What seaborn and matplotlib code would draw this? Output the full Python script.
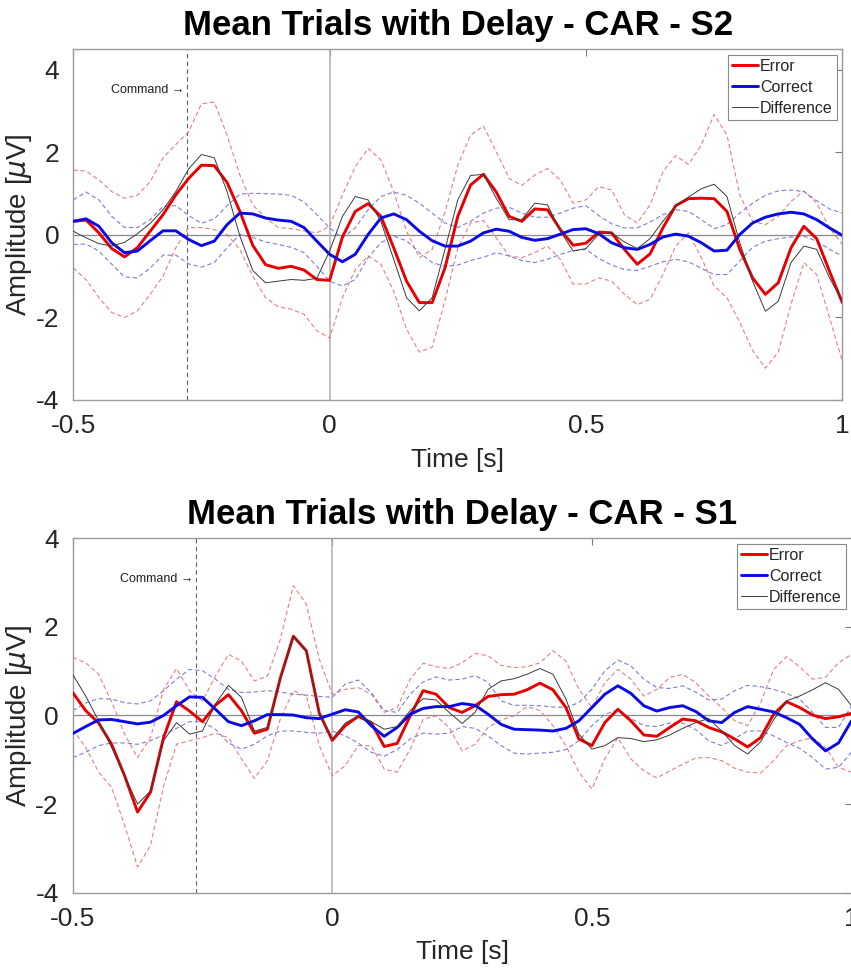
import numpy as np
import pandas as pd
import matplotlib
matplotlib.use("Agg")
import matplotlib.pyplot as plt
import seaborn as sns
from matplotlib.lines import Line2D

# ---------------- data ----------------
time = np.round(np.linspace(-0.5, 1.0, 61), 3)

# S2 (top panel)
s2_error = [0.33, 0.36, 0.05, -0.33, -0.53, -0.31, 0.09, 0.49, 0.97, 1.37,
            1.69, 1.68, 1.27, 0.57, -0.25, -0.72, -0.81, -0.76, -0.85, -1.08,
            -1.10, -0.05, 0.57, 0.76, 0.45, -0.31, -1.12, -1.64, -1.64, -0.80,
            0.45, 1.21, 1.47, 1.04, 0.45, 0.33, 0.63, 0.61, 0.13, -0.25,
            -0.20, 0.07, 0.05, -0.35, -0.71, -0.46, 0.17, 0.71, 0.88, 0.89,
            0.88, 0.57, -0.35, -1.04, -1.44, -1.16, -0.31, 0.21, -0.09, -0.88,
            -1.64]
s2_correct = [0.33, 0.39, 0.21, -0.19, -0.43, -0.39, -0.14, 0.10, 0.10, -0.11,
              -0.26, -0.15, 0.25, 0.53, 0.51, 0.41, 0.36, 0.33, 0.18, -0.15,
              -0.47, -0.65, -0.47, 0.01, 0.41, 0.51, 0.37, 0.09, -0.14, -0.27,
              -0.27, -0.15, 0.05, 0.14, 0.09, -0.06, -0.13, -0.09, 0.02, 0.13,
              0.15, 0.03, -0.19, -0.31, -0.35, -0.23, -0.05, 0.02, -0.03, -0.19,
              -0.39, -0.37, 0.01, 0.29, 0.43, 0.51, 0.55, 0.51, 0.37, 0.17,
              -0.01]
s2_diff = [0.09, -0.07, -0.21, -0.27, -0.18, 0.03, 0.28, 0.61, 1.05, 1.60,
           1.95, 1.87, 1.05, -0.03, -0.86, -1.16, -1.12, -1.08, -1.10, -1.05,
           -0.39, 0.45, 0.93, 0.85, 0.33, -0.59, -1.52, -1.84, -1.52, -0.35,
           0.85, 1.44, 1.47, 0.89, 0.37, 0.37, 0.77, 0.73, 0.09, -0.39,
           -0.33, 0.02, 0.05, -0.17, -0.33, -0.09, 0.33, 0.71, 0.92, 1.12,
           1.23, 0.93, -0.19, -1.12, -1.85, -1.61, -0.67, -0.27, -0.35, -1.04,
           -1.61]
s2_error_hi = [1.57, 1.55, 1.33, 1.05, 0.89, 0.96, 1.29, 1.87, 2.19, 2.50,
               3.18, 3.22, 2.42, 1.45, 0.73, 0.41, 0.18, 0.15, 0.10, 0.05,
               0.21, 0.97, 1.65, 2.10, 1.82, 1.05, 0.09, -0.55, -0.35, 0.55,
               1.69, 2.42, 2.64, 2.02, 1.37, 1.20, 1.45, 1.61, 1.33, 0.77,
               0.85, 1.17, 1.09, 0.49, 0.29, 0.73, 1.53, 1.92, 1.71, 2.18,
               2.92, 2.42, 0.97, 0.33, 0.25, 0.45, 0.81, 1.07, 0.77, 0.17,
               -0.23]
s2_error_lo = [-0.80, -1.08, -1.52, -1.88, -2.00, -1.84, -1.44, -1.00, -0.31, 0.18,
               0.18, 0.13, 0.01, -0.35, -1.00, -1.52, -1.74, -1.80, -1.92, -2.32,
               -2.50, -1.52, -0.84, -0.51, -0.71, -1.36, -2.28, -2.84, -2.72, -1.60,
               -0.31, 0.29, 0.35, -0.07, -0.51, -0.55, -0.43, -0.27, -0.59, -1.19,
               -1.19, -1.04, -1.12, -1.44, -1.69, -1.56, -0.96, -0.27, 0.05, -0.55,
               -1.24, -1.52, -2.12, -2.80, -3.23, -2.84, -1.68, -0.67, -0.96, -2.00,
               -3.06]
s2_correct_hi = [0.85, 1.04, 0.85, 0.45, 0.18, 0.18, 0.37, 0.69, 0.71, 0.47,
                 0.28, 0.39, 0.71, 0.99, 1.01, 1.00, 0.99, 0.96, 0.80, 0.49,
                 0.17, -0.07, 0.17, 0.61, 0.93, 1.04, 0.96, 0.77, 0.53, 0.29,
                 0.18, 0.33, 0.53, 0.65, 0.67, 0.53, 0.43, 0.43, 0.53, 0.65,
                 0.71, 0.47, 0.27, 0.17, 0.17, 0.31, 0.49, 0.61, 0.57, 0.37,
                 0.15, 0.25, 0.53, 0.77, 0.96, 1.07, 1.09, 1.05, 0.83, 0.63,
                 0.53]
s2_correct_lo = [-0.23, -0.22, -0.39, -0.71, -1.02, -1.04, -0.80, -0.49, -0.49, -0.70,
                 -0.78, -0.67, -0.31, 0.01, -0.06, -0.17, -0.23, -0.30, -0.43, -0.76,
                 -1.12, -1.24, -1.08, -0.55, -0.19, -0.03, -0.14, -0.43, -0.67, -0.76,
                 -0.73, -0.62, -0.54, -0.43, -0.51, -0.62, -0.67, -0.59, -0.47, -0.38,
                 -0.35, -0.57, -0.73, -0.84, -0.86, -0.76, -0.65, -0.59, -0.65, -0.81,
                 -0.96, -0.96, -0.63, -0.30, -0.15, -0.09, -0.05, -0.03, -0.15, -0.35,
                 -0.51]

# S1 (bottom panel)
s1_error = [0.52, 0.11, -0.17, -0.65, -1.36, -2.18, -1.73, -0.50, 0.31, 0.10,
            -0.14, 0.23, 0.47, 0.11, -0.40, -0.31, 0.85, 1.79, 1.46, 0.05,
            -0.56, -0.23, -0.02, -0.16, -0.70, -0.63, -0.01, 0.56, 0.48, 0.18,
            0.07, 0.22, 0.43, 0.47, 0.48, 0.58, 0.73, 0.58, 0.18, -0.53,
            -0.68, -0.16, 0.14, -0.12, -0.44, -0.47, -0.27, -0.08, -0.12, -0.27,
            -0.37, -0.53, -0.71, -0.50, 0.03, 0.31, 0.18, 0.01, -0.07, -0.03,
            0.05]
s1_correct = [-0.41, -0.25, -0.10, -0.09, -0.14, -0.19, -0.15, 0.00, 0.22, 0.42,
              0.41, 0.14, -0.14, -0.23, -0.12, 0.02, 0.02, 0.01, -0.05, -0.07,
              0.03, 0.13, 0.08, -0.23, -0.47, -0.27, 0.03, 0.16, 0.20, 0.20,
              0.27, 0.23, 0.03, -0.20, -0.31, -0.32, -0.33, -0.35, -0.29, -0.12,
              0.18, 0.48, 0.67, 0.50, 0.22, 0.10, 0.18, 0.22, 0.09, -0.12,
              -0.16, 0.07, 0.20, 0.14, 0.08, -0.05, -0.20, -0.53, -0.80, -0.62,
              -0.12]
s1_diff = [0.93, 0.44, -0.12, -0.72, -1.36, -2.00, -1.70, -0.57, -0.16, -0.42,
           -0.35, 0.26, 0.68, 0.41, -0.35, -0.27, 0.83, 1.79, 1.46, 0.03,
           -0.53, -0.17, -0.01, -0.14, -0.31, -0.25, 0.11, 0.38, 0.35, 0.07,
           -0.18, 0.07, 0.59, 0.78, 0.83, 0.93, 1.06, 0.93, 0.37, -0.42,
           -0.76, -0.68, -0.50, -0.52, -0.59, -0.55, -0.44, -0.29, -0.16, -0.07,
           -0.35, -0.68, -0.87, -0.59, -0.10, 0.33, 0.44, 0.58, 0.74, 0.59,
           0.22]
s1_error_hi = [1.31, 1.19, 0.93, 0.31, -0.42, -0.95, -0.50, 0.59, 1.06, 0.56,
               0.33, 0.89, 1.38, 1.23, 0.78, 0.89, 1.72, 2.93, 2.51, 1.27,
               0.48, 0.59, 0.63, 0.48, 0.07, 0.18, 0.82, 1.18, 1.10, 1.06,
               1.19, 1.40, 1.35, 1.13, 1.08, 1.10, 1.19, 1.46, 1.23, 0.59,
               0.18, 0.74, 1.04, 0.82, 0.44, 0.59, 0.86, 0.93, 0.74, 0.44,
               0.18, -0.12, -0.23, 0.29, 1.04, 1.33, 1.10, 0.82, 0.86, 1.19,
               1.38]
s1_error_lo = [-0.31, -0.72, -1.28, -1.62, -2.48, -3.42, -2.93, -1.60, -0.65, -0.57,
               -0.50, -0.40, -0.50, -0.98, -1.42, -1.02, -0.08, 0.56, 0.44, -0.68,
               -1.36, -1.13, -0.68, -0.68, -1.21, -1.28, -0.76, -0.08, -0.01, -0.27,
               -0.80, -0.65, -0.27, -0.10, -0.01, 0.20, 0.11, -0.23, -0.68, -1.28,
               -1.66, -0.98, -0.50, -0.98, -1.25, -1.41, -1.25, -1.10, -0.96, -0.95,
               -1.02, -1.19, -1.28, -1.30, -1.02, -0.68, -0.57, -0.50, -0.72, -1.17,
               -1.28]
s1_correct_hi = [0.11, 0.28, 0.38, 0.37, 0.29, 0.26, 0.33, 0.56, 0.82, 1.04,
                 1.01, 0.82, 0.59, 0.52, 0.53, 0.56, 0.53, 0.48, 0.46, 0.43,
                 0.41, 0.71, 0.80, 0.52, 0.11, 0.07, 0.48, 0.76, 0.87, 0.80,
                 0.82, 0.90, 0.75, 0.33, 0.23, 0.23, 0.22, 0.19, 0.18, 0.29,
                 0.59, 1.01, 1.25, 1.12, 0.82, 0.63, 0.61, 0.67, 0.53, 0.35,
                 0.37, 0.56, 0.68, 0.65, 0.59, 0.50, 0.37, 0.07, -0.27, -0.27,
                 0.22]
s1_correct_lo = [-0.95, -0.83, -0.68, -0.62, -0.62, -0.65, -0.57, -0.44, -0.29, -0.14,
                 -0.14, -0.31, -0.62, -0.76, -0.65, -0.46, -0.35, -0.35, -0.38, -0.40,
                 -0.35, -0.46, -0.62, -0.83, -0.92, -0.77, -0.53, -0.40, -0.42, -0.40,
                 -0.25, -0.29, -0.46, -0.68, -0.85, -0.87, -0.85, -0.83, -0.77, -0.57,
                 -0.23, 0.03, 0.12, -0.07, -0.23, -0.25, -0.17, -0.17, -0.32, -0.57,
                 -0.68, -0.52, -0.35, -0.35, -0.46, -0.61, -0.74, -0.95, -1.21, -1.17,
                 -0.83]

titles = ["Mean Trials with Delay - CAR - S2", "Mean Trials with Delay - CAR - S1"]
command_times = [-0.278, -0.262]
legend_labels = ["Error", "Correct", "Difference"]
x_ticks = [-0.5, 0, 0.5, 1]
x_ticklabels = ["-0.5", "0", "0.5", "1"]
y_ticks = [-4, -2, 0, 2, 4]
y_ticklabels = ["-4", "-2", "0", "2", "4"]

# ---------------- styling ----------------
sns.set_theme(style="white")
plt.rcParams['font.family'] = ['Liberation Sans', 'DejaVu Sans']
plt.rcParams['mathtext.fontset'] = 'dejavusans'

RED = '#e60000'
BLUE = '#0a0ae6'
RED_CI = '#e58080'
BLUE_CI = '#7d7dd8'
DIFF = '#3a3a3a'
SPINE = '#9a9a9a'

fig = plt.figure(figsize=(8.51, 9.72), dpi=100)
ax1 = fig.add_axes([0.0861, 0.5885, 0.9037, 0.3608])
ax2 = fig.add_axes([0.0854, 0.0816, 0.9152, 0.3646])


def draw(ax, title, err, err_hi, err_lo, cor, cor_hi, cor_lo, diff,
         cmd, cmd_y, ylim):
    df = pd.DataFrame({'t': time, 'err': err, 'err_hi': err_hi, 'err_lo': err_lo,
                       'cor': cor, 'cor_hi': cor_hi, 'cor_lo': cor_lo, 'diff': diff})
    ax.axhline(0, color='#8a8a8a', lw=0.9, zorder=1)
    ax.axvline(0, color='#b0b0b0', lw=1.1, zorder=1)
    ax.axvline(cmd, color='#606060', lw=0.8, ls=(0, (4, 3)), zorder=1)
    for col, c in [('err_hi', RED_CI), ('err_lo', RED_CI),
                   ('cor_hi', BLUE_CI), ('cor_lo', BLUE_CI)]:
        sns.lineplot(data=df, x='t', y=col, ax=ax, color=c, linewidth=0.8,
                     linestyle=(0, (4, 2.5)), errorbar=None, legend=False, zorder=2)
    sns.lineplot(data=df, x='t', y='err', ax=ax, color=RED, linewidth=2.1,
                 errorbar=None, legend=False, zorder=3)
    sns.lineplot(data=df, x='t', y='cor', ax=ax, color=BLUE, linewidth=2.1,
                 errorbar=None, legend=False, zorder=3)
    sns.lineplot(data=df, x='t', y='diff', ax=ax, color=DIFF, linewidth=0.7,
                 errorbar=None, legend=False, zorder=4)

    ax.text(cmd - 0.006, cmd_y, "Command \u2192", ha='right', va='center',
            fontsize=9, color='#202020', family=['Liberation Sans', 'DejaVu Sans'])

    ax.set_xlim(-0.5, 1.0)
    ax.set_ylim(*ylim)
    ax.set_xticks(x_ticks)
    ax.set_xticklabels(x_ticklabels)
    ax.set_yticks(y_ticks)
    ax.set_yticklabels(y_ticklabels)
    ax.tick_params(direction='in', top=True, right=True, length=5, width=0.8,
                   color='#7a7a7a', labelsize=19, labelcolor='#262626')
    ax.tick_params(axis='x', pad=10)
    ax.tick_params(axis='y', pad=10)
    for s in ax.spines.values():
        s.set_visible(True)
        s.set_color(SPINE)
        s.set_linewidth(1.0)
    ax.set_xlabel("Time [s]", fontsize=19, color='#262626', labelpad=7)
    ax.set_ylabel(r"Amplitude [$\mu$V]", fontsize=20, color='#262626', labelpad=1)
    ax.set_title(title, fontsize=25, fontweight='bold', color='black', pad=10)

    handles = [Line2D([], [], color=RED, lw=2.1),
               Line2D([], [], color=BLUE, lw=2.1),
               Line2D([], [], color=DIFF, lw=0.7)]
    leg = ax.legend(handles, legend_labels, loc='upper right', fontsize=11.5,
                    frameon=True, fancybox=False, framealpha=1, edgecolor='#8a8a8a',
                    handlelength=1.6, handletextpad=0.15, borderpad=0.25,
                    labelspacing=0.38, borderaxespad=0.35)
    leg.get_frame().set_linewidth(0.8)
    leg.set_zorder(10)


draw(ax1, titles[0], s2_error, s2_error_hi, s2_error_lo, s2_correct,
     s2_correct_hi, s2_correct_lo, s2_diff, command_times[0], 3.52, (-4, 4.5))
draw(ax2, titles[1], s1_error, s1_error_hi, s1_error_lo, s1_correct,
     s1_correct_hi, s1_correct_lo, s1_diff, command_times[1], 3.07, (-4, 4))

fig.savefig("out.png", dpi=100)
